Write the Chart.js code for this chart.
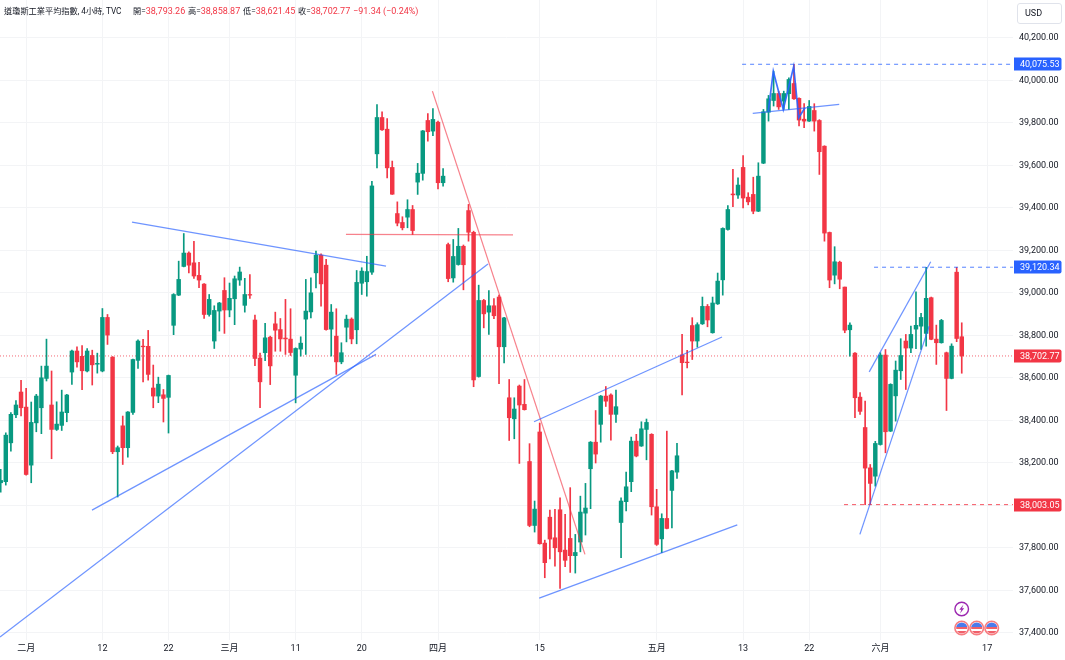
<!DOCTYPE html>
<html><head><meta charset="utf-8">
<style>
html,body{margin:0;padding:0;background:#fff;overflow:hidden}
#wrap{position:relative;width:1065px;height:660px}
canvas{position:absolute;left:0;top:0}
.h{position:absolute;top:5px;font:9px/12px Roboto,"Noto Sans CJK TC",sans-serif;color:#131722;white-space:nowrap}
.v{color:#F23645}
#usd{position:absolute;left:1017px;top:3px;width:43px;height:19px;border:1px solid #e0e3eb;border-radius:3px;box-sizing:content-box;font:9px/19px Roboto,sans-serif;color:#131722;text-indent:7px}
</style></head><body>
<div id="wrap">
<canvas id="c" width="1065" height="660"></canvas>
<div class="h" style="left:4px;font-size:8.2px">道瓊斯工業平均指數, 4小時, TVC</div>
<div class="h" style="left:133px;font-size:8.2px">開=<span class="v" style="font-size:9px">38,793.26</span></div>
<div class="h" style="left:188px;font-size:8.2px">高=<span class="v" style="font-size:9px">38,858.87</span></div>
<div class="h" style="left:243px;font-size:8.2px">低=<span class="v" style="font-size:9px">38,621.45</span></div>
<div class="h" style="left:298px;font-size:8.2px">收=<span class="v" style="font-size:9px">38,702.77</span></div>
<div class="h v" style="left:353px">−91.34 (−0.24%)</div>
<div id="usd">USD</div>
</div>
<script src="https://cdn.jsdelivr.net/npm/chart.js@4/dist/chart.umd.min.js"></script>
<script>
const opens=[38106,38111,38294,38426,38533,38462,38189,38388,38459,38597,38472,38357,38376,38436,38627,38726,38701,38632,38705,38664,38632,38884,38697,38252,38374,38271,38437,38682,38749,38748,38552,38514,38520,38508,38847,38989,39124,39187,39141,39082,39041,38898,38773,38914,39011,38919,38972,39060,38941,38992,38872,38693,38718,38791,38854,38827,38787,38782,38612,38735,38876,38910,39094,39177,39130,38829,38796,38675,38838,38876,38826,39045,39052,39097,39654,39825,39770,39590,39373,39331,39356,39392,39521,39562,39811,39761,39803,39518,39227,39070,39133,39219,39387,39285,38606,38964,38909,38939,38980,38746,38506,38407,38561,38475,38206,37905,38345,37822,37944,37847,37979,37789,37844,37763,37827,37963,38172,38297,38381,38514,38519,38428,37919,38017,38111,38302,38279,38357,38334,37993,37842,37938,38070,38156,38708,38674,38846,38773,38854,38936,38812,38948,39061,39298,39465,39460,39590,39450,39463,39384,39610,39850,39905,39938,39902,39937,39985,39915,39817,39808,39858,39811,39690,39284,39083,39144,39027,38826,38716,38509,38366,38176,38137,38286,38707,38349,38515,38633,38773,38740,38829,38843,38809,38977,38782,38765,38718,38597,39097,38793.26];
const highs=[38169,38341,38436,38493,38588,38550,38486,38522,38655,38782,38632,38487,38542,38522,38730,38746,38752,38738,38730,38716,38926,38898,38700,38279,38420,38441,38688,38779,38781,38823,38660,38603,38545,38613,38996,39149,39279,39193,39242,39143,39043,38992,38939,38955,39071,39046,39079,39121,39068,39086,38895,38716,38856,38796,38909,38879,38969,38925,38741,38793,39063,39070,39196,39183,39157,38945,38925,38765,38895,38882,39105,39118,39172,39525,39886,39852,39820,39620,39428,39358,39438,39411,39609,39764,39844,39867,39808,39585,39234,39251,39303,39225,39416,39290,39036,38969,39011,38973,38989,38885,38592,38506,38566,38592,38290,38020,38387,37836,37977,37981,38035,37957,38083,37863,38043,38103,38300,38446,38517,38559,38525,38542,38035,38156,38321,38334,38393,38406,38337,38075,37960,38349,38165,38291,38804,38729,38883,38859,38980,38945,38980,39093,39306,39411,39581,39541,39646,39471,39544,39612,39863,39929,40043,39949,39949,40012,40075.53,39918,39890,39905,39890,39815,39692,39286,39217,39149,39027,38859,38719,38530,38490,38192,38301,38718,38733,38572,38679,38784,38804,38843,39005,38903,39120.34,38980,38848,38875,38721,38760,39120,38858.87];
const lows=[38062,38095,38255,38412,38420,38142,38106,38346,38337,38585,38219,38352,38352,38393,38569,38650,38544,38628,38566,38622,38628,38757,38243,38039,38192,38227,38428,38644,38581,38589,38459,38483,38392,38340,38803,38987,39122,39093,39068,39024,38879,38890,38738,38820,38809,38887,38850,39035,38909,38974,38657,38459,38681,38568,38725,38725,38710,38705,38482,38702,38710,38882,39023,38937,38824,38702,38616,38666,38769,38760,38760,38992,38984,39086,39588,39764,39541,39463,39315,39296,39306,39274,39463,39530,39714,39740,39489,39502,39052,39050,39130,39014,39243,38558,38603,38835,38804,38878,38572,38670,38305,38313,38197,38448,37899,37874,37817,37659,37748,37714,37609,37711,37684,37681,37781,37860,37984,38199,38297,38465,38307,38390,37753,37973,38064,38228,38277,38214,37954,37811,37777,37889,37894,38126,38519,38647,38686,38744,38851,38840,38810,38945,38989,39295,39405,39444,39400,39414,39372,39382,39608,39808,39879,39863,39863,39863,39910,39785,39777,39806,39761,39557,39243,39024,39042,39019,38812,38702,38412,38428,38003.05,38004,38090,38283,38247,38347,38396,38592,38545,38718,38737,38733,38749,38779,38663,38763,38446,38595,38770,38621.45];
const closes=[38117,38330,38428,38472,38459,38145,38390,38514,38600,38655,38357,38382,38439,38519,38726,38675,38633,38726,38661,38668,38884,38801,38252,38271,38271,38439,38686,38773,38746,38616,38514,38570,38503,38611,38992,39063,39187,39130,39079,39060,38898,38969,38917,38952,38919,38974,39066,39098,38992,38989,38691,38581,38788,38656,38824,38783,38783,38719,38738,38763,38914,39000,39177,39042,38827,38909,38675,38718,38876,38783,39049,39102,39100,39503,39825,39767,39588,39464,39328,39306,39392,39293,39563,39762,39758,39816,39518,39549,39067,39171,39219,39132,39285,38590,38964,38901,38939,38892,38746,38882,38412,38453,38472,38450,37905,37982,37819,37730,37841,37800,37781,37741,37763,37778,37968,37987,38297,38241,38514,38490,38428,38464,38020,38087,38302,38232,38360,38390,37993,37816,37938,37891,38162,38233,38671,38671,38773,38850,38936,38872,38952,39055,39303,39392,39461,39507,39446,39428,39384,39549,39852,39913,39938,39875,39938,40004,39913,39813,39808,39877,39808,39664,39281,39060,39146,39064,38824,38848,38506,38442,38175,38103,38291,38707,38346,38569,38636,38705,38740,38804,38847,38884,38974,38781,38765,38870,38597,38749,38785,38702.77];

const priceTicks=[37400,37600,37800,38000,38200,38400,38600,38800,39000,39200,39400,39600,39800,40000,40200];
const dateTickIdx=[5,20,33,45,58,71,86,106,129,146,159,173,194];
const dateTickLabels=['二月','12','22','三月','11','20','四月','15','五月','13','22','六月','17'];

const xMin=-0.14,xMax=199.08,yMin=37366,yMax=40378;
const blueTrends=[
 [[25.82,39333],[75.77,39126]],
 [[17.95,37977],[73.8,38710]],
 [[-0.14,37380],[95.83,39135]],
 [[104.88,38393],[141.85,38792]],
 [[105.9,37563],[144.86,37908]],
 [[147.9,39844],[164.9,39887]],
 [[168.97,37863],[182.6,38843]],
 [[170.8,38628],[182.9,39146]]
];
const doubleTop=[[150.96,39855],[151.94,40043],[153.9,39863],[155.95,40065],[156.94,39824],[158.17,39871]];
const redTrends=[
 [[84.9,39949],[114.9,37769]],
 [[67.9,39275],[100.75,39273]]
];
const dashLevels=[
 {from:145.8,price:40075.53,color:'rgba(41,98,255,0.8)'},
 {from:171.75,price:39120.34,color:'rgba(41,98,255,0.8)'},
 {from:165.85,price:38003.05,color:'rgba(242,54,69,0.85)'}
];
const lastPrice=38702.77;
const priceBadges=[
 {price:40075.53,color:'#2962FF'},
 {price:39120.34,color:'#2962FF'},
 {price:38702.77,color:'#F23645'},
 {price:38003.05,color:'#F23645'}
];

const GREEN='#089981',RED='#F23645';
const idx=opens.map((_,i)=>i);
const colors=idx.map(i=>closes[i]>=opens[i]?GREEN:RED);
const toPts=a=>a.map(p=>({x:p[0],y:p[1]}));
const lineDs=(pts,color,w,dash,order)=>({type:'line',data:toPts(pts),borderColor:color,borderWidth:w,borderDash:dash||[],pointRadius:0,tension:0,order:order||1,fill:false});

const datasets=[
 {type:'bar',data:idx.map(i=>({x:i,y:[Math.min(opens[i],closes[i]),Math.max(opens[i],closes[i])]})),backgroundColor:colors,barThickness:3.8,grouped:false,order:3,borderWidth:0},
 {type:'bar',data:idx.map(i=>({x:i,y:[lows[i],highs[i]]})),backgroundColor:colors,barThickness:1,grouped:false,order:4,borderWidth:0},
 ...blueTrends.map(t=>lineDs(t,'rgba(41,98,255,0.68)',1.25)),
 lineDs(doubleTop,'rgba(41,98,255,0.9)',1.7),
 ...redTrends.map(t=>lineDs(t,'rgba(242,54,69,0.62)',1.25)),
 ...dashLevels.map(d=>lineDs([[d.from,d.price],[xMax,d.price]],d.color,1,[4,4],2)),
 lineDs([[xMin,lastPrice],[xMax,lastPrice]],'rgba(242,54,69,0.75)',1,[1,2],5)
];

const fmt=v=>Number(v).toLocaleString('en-US',{minimumFractionDigits:2,maximumFractionDigits:2});
const AXIS_FAMILY='Roboto,"Noto Sans CJK TC",sans-serif';
const AXIS_FONT='9px '+AXIS_FAMILY;

const overlay={id:'overlay',afterDraw(ch){
 const c=ch.ctx,y=ch.scales.y;
 c.save();
 priceBadges.forEach(b=>{
  const py=y.getPixelForValue(b.price);
  c.fillStyle=b.color;
  c.beginPath();c.roundRect(1014,Math.round(py)-6.5,47.5,13,[0,2,2,0]);c.fill();
  c.fillStyle='#fff';c.font=AXIS_FONT;c.textAlign='left';c.textBaseline='middle';
  c.fillText(fmt(b.price),1020,Math.round(py)+0.5);
 });
 c.strokeStyle='#9c27b0';c.lineWidth=1.4;
 c.beginPath();c.arc(961.7,609,6.8,0,Math.PI*2);c.stroke();
 c.fillStyle='#9c27b0';c.beginPath();
 [[963.5,604.5],[959.3,609.8],[961.4,609.8],[960,613.5],[964.2,608.2],[962,608.2]].forEach((p,i)=>i?c.lineTo(p[0],p[1]):c.moveTo(p[0],p[1]));
 c.closePath();c.fill();
 [961.7,976.7,991.7].forEach(cx=>{
  const cy=628;
  c.save();c.beginPath();c.arc(cx,cy,7.5,0,Math.PI*2);c.fillStyle='#fff';c.fill();c.clip();
  c.beginPath();c.arc(cx,cy,5.6,0,Math.PI*2);c.clip();
  c.fillStyle='#fff';c.fillRect(cx-6,cy-6,12,12);
  c.fillStyle='#f0606a';c.fillRect(cx-6,cy-1,12,2);c.fillRect(cx-6,cy+3,12,3);
  c.fillStyle='#4b7bec';c.fillRect(cx-6,cy-6,12,5);
  c.restore();
  c.strokeStyle='#f77c80';c.lineWidth=1.6;c.beginPath();c.arc(cx,cy,6.8,0,Math.PI*2);c.stroke();
 });
 c.restore();
}};

new Chart(document.getElementById('c'),{
 type:'bar',
 data:{datasets},
 plugins:[overlay],
 options:{
  responsive:false,animation:false,devicePixelRatio:1,
  layout:{padding:0},
  plugins:{legend:{display:false},title:{display:false},tooltip:{enabled:false}},
  scales:{
   x:{type:'linear',min:xMin,max:xMax,offset:false,
      afterBuildTicks(s){s.ticks=dateTickIdx.map(v=>({value:v}));},
      afterFit(s){s.height=20;s.paddingLeft=0;s.paddingRight=0;},
      ticks:{autoSkip:false,maxRotation:0,padding:3,color:'#131722',font:{family:AXIS_FAMILY,size:9},
             callback:(v)=>dateTickLabels[dateTickIdx.indexOf(v)]},
      grid:{offset:false,color:'#f3f4f6',drawTicks:false,lineWidth:1},border:{display:false}},
   y:{type:'linear',position:'right',min:yMin,max:yMax,
      afterBuildTicks(s){s.ticks=priceTicks.map(v=>({value:v}));},
      afterFit(s){s.width=52;s.paddingTop=0;s.paddingBottom=0;},
      ticks:{padding:6,color:'#131722',align:'center',crossAlign:'near',font:{family:AXIS_FAMILY,size:9},callback:v=>fmt(v)},
      grid:{color:'#f3f4f6',drawTicks:false,lineWidth:1},border:{display:false}}
  }
 }
});
</script>
</body></html>
